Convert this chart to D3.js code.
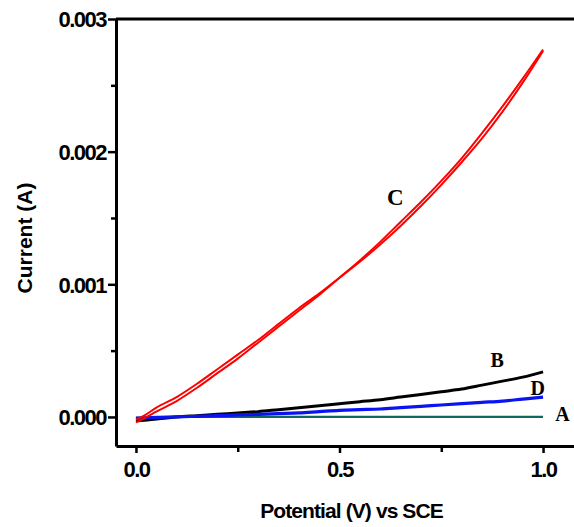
<!DOCTYPE html>
<html>
<head>
<meta charset="utf-8">
<script src="https://cdn.jsdelivr.net/npm/d3@7"></script>
<style>
  body { margin: 0; background: #fff; }
  .tick-lbl text { font-family: "Liberation Sans", Arial, sans-serif; font-weight: bold; font-size: 22px; letter-spacing: -1.5px; fill: #000; }
  .title { font-family: "Liberation Sans", Arial, sans-serif; font-weight: bold; fill: #000; }
  .curve-lbl { font-family: "Liberation Serif", "Times New Roman", serif; font-weight: bold; fill: #000; }
</style>
</head>
<body>
<svg id="chart" width="574" height="527"></svg>
<script>
// Potential (V) sample points
var potential = [0, 0.02, 0.05, 0.1, 0.15, 0.2, 0.25, 0.3, 0.35, 0.4, 0.45, 0.5, 0.55, 0.6, 0.65, 0.7, 0.75, 0.8, 0.85, 0.9, 0.95, 1.0];

// Current (A) for each curve
var curveA = [-0.000005, -0.000004, -0.000002, 0, 0, 0, 0, 0, 0, 0, 0, 0, 0, 0, 0, 0, 0, 0, 0, 0, 0, 0];
var curveB = [-0.00003, -0.000025, -0.000015, 0, 0.00001, 0.00002, 0.00003, 0.00004, 0.000055, 0.00007, 0.000085, 0.0001, 0.000115, 0.00013, 0.00015, 0.00017, 0.00019, 0.00021, 0.00024, 0.00027, 0.0003, 0.00034];
var curveD = [-0.00001, -0.000007, -0.000003, 0, 0.000005, 0.00001, 0.000015, 0.00002, 0.000025, 0.00003, 0.00004, 0.00005, 0.000055, 0.00006, 0.00007, 0.00008, 0.00009, 0.0001, 0.00011, 0.00012, 0.000135, 0.00015];
var curveC1 = [-0.00004, -0.00001, 0.00004, 0.00012, 0.00022, 0.00033, 0.00044, 0.00056, 0.00068, 0.0008, 0.00092, 0.00105, 0.00118, 0.00132, 0.00147, 0.00162, 0.00178, 0.00195, 0.00214, 0.00234, 0.00255, 0.00277];
var curveC2 = [-0.00002, 0.00001, 0.00007, 0.00015, 0.00025, 0.00036, 0.00047, 0.00058, 0.0007, 0.00082, 0.00093, 0.00105, 0.00117, 0.0013, 0.00144, 0.00159, 0.00175, 0.00192, 0.0021, 0.0023, 0.00252, 0.00276];

// Tick values
var xTicks = [0, 0.5, 1.0];
var xMinorTicks = [0.25, 0.75];
var yTicks = [0, 0.001, 0.002, 0.003];
var yMinorTicks = [0.0005, 0.0015, 0.0025];

// Curve labels (anchored at potential / current)
var labels = [
    {text: "C", v: 0.637, i: 0.0016},
    {text: "B", v: 0.887, i: 0.000377},
    {text: "D", v: 0.987, i: 0.000166},
    {text: "A", v: 1.048, i: -0.00003}
];

var m_left = 116, m_right = 574, m_top = 19, m_bottom = 446;

var svg = d3.select("#chart");

var x = d3.scaleLinear().domain([-0.049, 1.076]).range([m_left, m_right]);
var y = d3.scaleLinear().domain([-0.000219, 0.003]).range([m_bottom, m_top]);

// Top frame line
svg.append("line")
    .attr("x1", m_left).attr("x2", m_right)
    .attr("y1", m_top).attr("y2", m_top)
    .attr("stroke", "#000").attr("stroke-width", 3);

// Minor ticks
svg.append("g")
    .attr("transform", "translate(" + m_left + ",0)")
    .call(d3.axisLeft(y).tickValues(yMinorTicks).tickSize(5).tickFormat("").tickSizeOuter(0))
    .call(g => g.select(".domain").remove())
    .selectAll("line").attr("stroke-width", 2.5);
svg.append("g")
    .attr("transform", "translate(0," + m_bottom + ")")
    .call(d3.axisBottom(x).tickValues(xMinorTicks).tickSize(6).tickFormat("").tickSizeOuter(0))
    .call(g => g.select(".domain").remove())
    .selectAll("line").attr("stroke-width", 2.5);

// Major axes
var yAxis = svg.append("g")
    .attr("class", "tick-lbl")
    .attr("transform", "translate(" + m_left + ",0)")
    .call(d3.axisLeft(y).tickValues(yTicks).tickSize(8).tickPadding(2)
        .tickFormat(d3.format(".3f")).tickSizeOuter(0));
yAxis.select(".domain").attr("stroke-width", 3);
yAxis.selectAll(".tick line").attr("stroke-width", 2.5);
yAxis.selectAll("text").attr("dy", "0.36em");

var xAxis = svg.append("g")
    .attr("class", "tick-lbl")
    .attr("transform", "translate(0," + m_bottom + ")")
    .call(d3.axisBottom(x).tickValues(xTicks).tickSize(7).tickPadding(8)
        .tickFormat(d3.format(".1f")).tickSizeOuter(0));
xAxis.select(".domain").attr("stroke-width", 3);
xAxis.selectAll(".tick line").attr("stroke-width", 2.5);

// Titles
svg.append("text")
    .attr("class", "title")
    .attr("x", (x(0) + x(1)) / 2 + 12)
    .attr("y", 518)
    .attr("text-anchor", "middle")
    .attr("font-size", 21)
    .attr("letter-spacing", "-0.9px")
    .text("Potential (V) vs SCE");
svg.append("text")
    .attr("class", "title")
    .attr("transform", "translate(32," + 238 + ") rotate(-90)")
    .attr("text-anchor", "middle")
    .attr("font-size", 21)
    .text("Current (A)");

// Curves
var line = d3.line()
    .x((d, i) => x(potential[i]))
    .y(d => y(d))
    .curve(d3.curveMonotoneX);

var series = [
    {values: curveA, color: "#106860", width: 2.2},
    {values: curveB, color: "#000000", width: 3},
    {values: curveD, color: "#0a14f0", width: 3.2},
    {values: curveC1, color: "#ff0000", width: 2},
    {values: curveC2, color: "#ff0000", width: 2}
];

svg.append("g").selectAll("path")
    .data(series)
    .enter()
    .append("path")
    .attr("d", d => line(d.values))
    .attr("fill", "none")
    .attr("stroke", d => d.color)
    .attr("stroke-width", d => d.width)
    .attr("stroke-linejoin", "round");

// Curve labels
svg.append("g").selectAll("text")
    .data(labels)
    .enter()
    .append("text")
    .attr("class", "curve-lbl")
    .attr("font-size", d => d.text === "C" ? 23 : 20)
    .attr("x", d => x(d.v))
    .attr("y", d => y(d.i))
    .attr("text-anchor", "middle")
    .text(d => d.text);
</script>
</body>
</html>
